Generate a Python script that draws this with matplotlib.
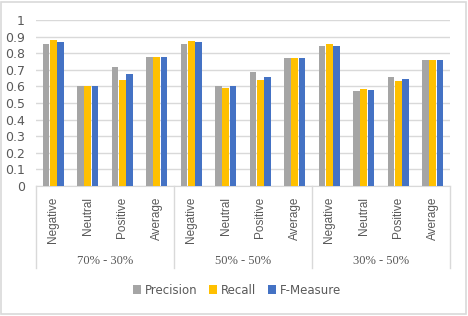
import matplotlib.pyplot as plt
import numpy as np

splits = ['70% - 30%', '50% - 50%', '30% - 50%']
classes = ['Negative', 'Neutral', 'Positive', 'Average']

precision = [0.855, 0.600, 0.717, 0.779,
             0.855, 0.600, 0.685, 0.773,
             0.845, 0.572, 0.655, 0.757]
recall = [0.877, 0.600, 0.638, 0.779,
          0.873, 0.592, 0.637, 0.773,
          0.855, 0.582, 0.634, 0.757]
fmeasure = [0.865, 0.600, 0.675, 0.779,
            0.865, 0.600, 0.657, 0.773,
            0.845, 0.578, 0.645, 0.757]

colors = ['#A5A5A5', '#FFC000', '#4472C4']
grid_col = '#D9D9D9'

fig = plt.figure(figsize=(4.68, 3.16), dpi=100)
ax = fig.add_axes([36 / 468, 1 - 186 / 316, 414 / 468, 166 / 316])

x = np.arange(len(precision))
w = 0.19
step = 0.215
series = [('Precision', precision), ('Recall', recall), ('F-Measure', fmeasure)]
for i, (name, vals) in enumerate(series):
    ax.bar(x + (i - 1) * step, vals, width=w, color=colors[i], label=name, zorder=3)

ax.set_xlim(-0.5, len(x) - 0.5)
ax.set_ylim(0, 1)
ax.set_yticks(np.arange(0, 1.01, 0.1))
ax.set_yticklabels(['0'] + [f'{v:.1f}' for v in np.arange(0.1, 0.95, 0.1)] + ['1'])
ax.yaxis.grid(True, color=grid_col, linewidth=1, zorder=0)
ax.tick_params(axis='y', length=0, labelsize=9, labelcolor='#595959', pad=8)
for s in ['top', 'right', 'left']:
    ax.spines[s].set_visible(False)
ax.spines['bottom'].set_color(grid_col)

ax.set_xticks(x)
ax.set_xticklabels(classes * len(splits), rotation=90, fontsize=8.5,
                   color='#595959', fontfamily='Liberation Sans')
ax.tick_params(axis='x', length=0, pad=8)

# group separators and labels below the axis
trans = ax.get_xaxis_transform()
for b in np.arange(-0.5, len(x), 4):
    ax.plot([b, b], [0, -0.494], transform=trans, color=grid_col,
            linewidth=1, clip_on=False)
for g, name in enumerate(splits):
    ax.text(g * 4 + 1.5, -0.45, name, transform=trans, ha='center', va='center',
            fontsize=9, color='#595959', fontfamily='Liberation Serif')

fig.legend(loc='center', bbox_to_anchor=(237 / 468, 1 - 290 / 316), ncol=3,
           frameon=False, fontsize=8.5, handlelength=0.7, handleheight=0.7,
           handletextpad=0.3, columnspacing=1.0, labelcolor='#595959')

fig.patches.append(plt.Rectangle((0.003, 0.005), 0.992, 0.99, transform=fig.transFigure,
                                 fill=False, edgecolor=grid_col, linewidth=1.2))

fig.savefig('out.png', dpi=100)
